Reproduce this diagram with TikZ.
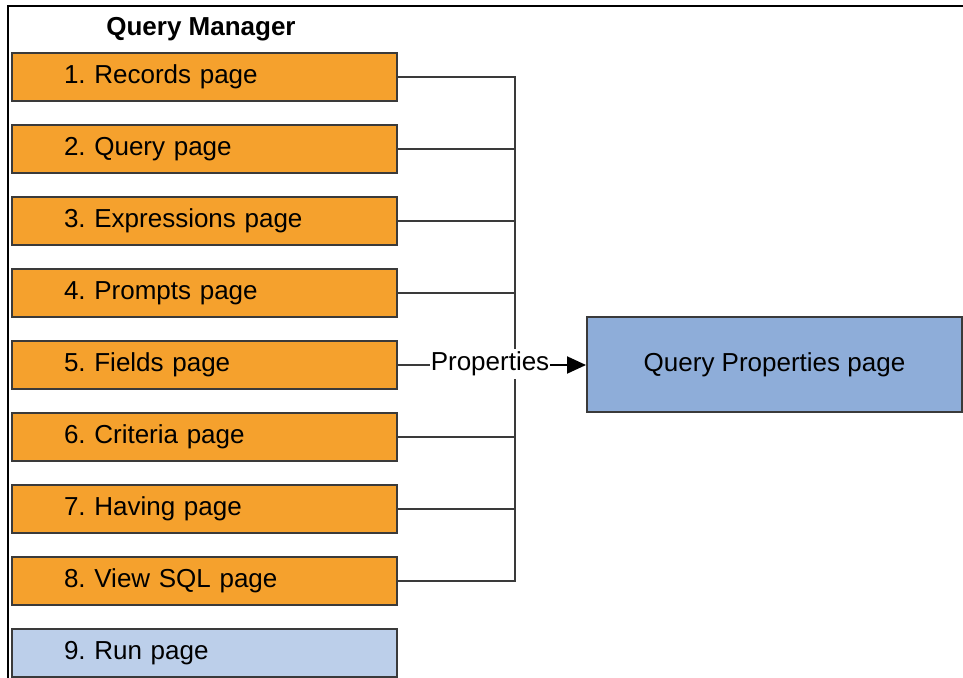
\documentclass[tikz,border=0pt]{standalone}
\usepackage{fontspec}
\setmainfont{Liberation Sans}
\usetikzlibrary{arrows.meta}
\definecolor{pageorange}{HTML}{F5A12D}
\definecolor{propblue}{HTML}{8EADD9}
\definecolor{runblue}{HTML}{BCCFEA}
\definecolor{edgegray}{HTML}{3A3A3A}
\frenchspacing
\begin{document}
\begin{tikzpicture}[x=1pt,y=-1pt,
  pagebox/.style={draw=edgegray,line width=2pt,minimum width=385pt,minimum height=48pt,
    inner xsep=0pt,inner ysep=0pt,text width=385pt,align=left,
    font=\fontsize{26}{30}\selectfont,anchor=north west},
  link/.style={draw=edgegray,line width=2pt},
  lbl/.style={font=\fontsize{26}{30}\selectfont,fill=white,inner xsep=1pt,inner ysep=3pt}]
\useasboundingbox (0,0) rectangle (963,677);
\clip (0,0) rectangle (963,677);
% outer frame
\draw[line width=2.2pt,black] (963,6) -- (8,6) -- (8,680);
\node[font=\bfseries\fontsize{26}{30}\selectfont] (title) at (201,29) {Query Manager};
% page boxes
\foreach \i/\t in {1/1. Records page,2/2. Query page,3/3. Expressions page,4/4. Prompts page,
  5/5. Fields page,6/6. Criteria page,7/7. Having page,8/8. View SQL page}{
  \node[pagebox,fill=pageorange] (p\i) at (11,{52+72*(\i-1)}) {\hspace*{52pt}\t};
}
\node[pagebox,fill=runblue] (p9) at (11,628) {\hspace*{52pt}9. Run page};
\node[draw=edgegray,line width=2pt,fill=propblue,minimum width=375pt,minimum height=95pt,
  inner sep=0pt,font=\fontsize{26}{30}\selectfont] (qp) at (774.5,364.5) {Query Properties page};
% collector bus
\coordinate (bx) at (515,0);
\draw[link] (p1.east) -- (p1.east -| bx) -- (p8.east -| bx) -- (p8.east);
\foreach \i in {2,3,4,6,7}{ \draw[link] (p\i.east) -- (p\i.east -| bx); }
\node[lbl] (props) at (490,364) {Properties};
\draw[link] (p5.east) -- (p5.east -| props.west);
\draw[link,-{Triangle[length=19pt,width=17pt]},black] (p5.east -| props.east) -- (p5.east -| qp.west);
\end{tikzpicture}
\end{document}
